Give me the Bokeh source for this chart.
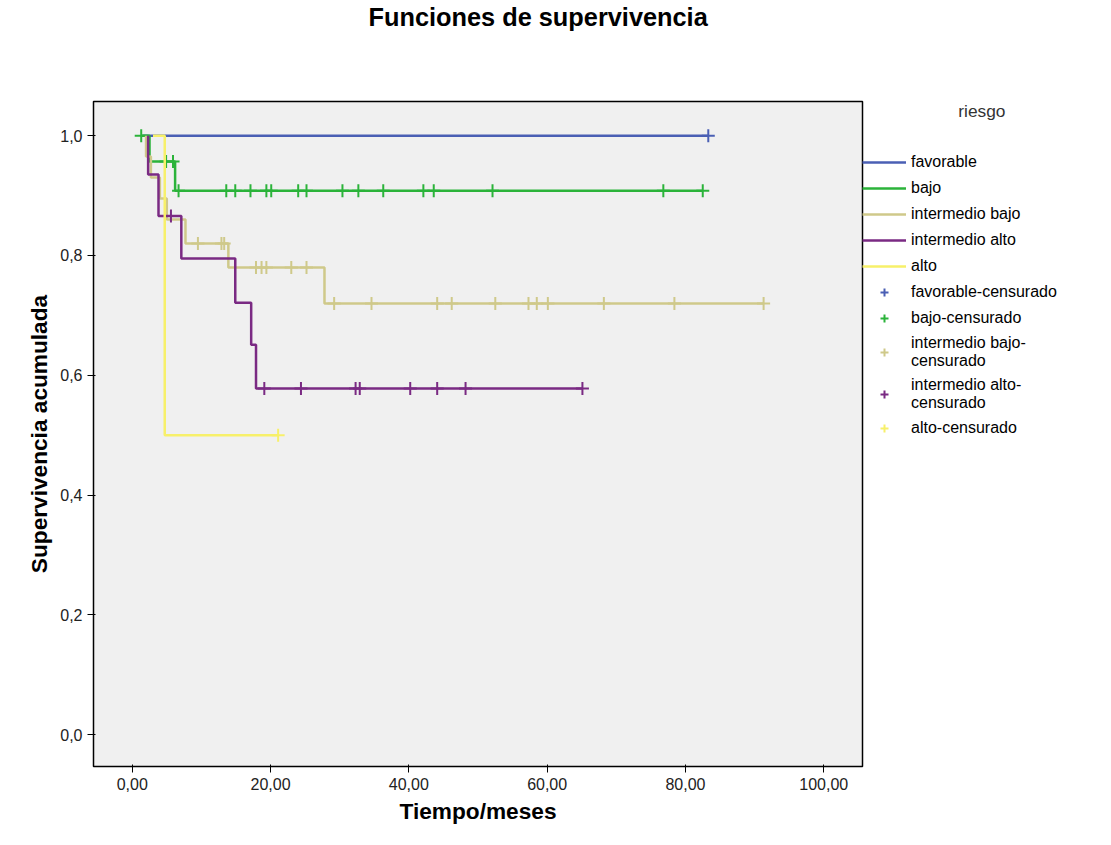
import numpy as np
from bokeh.embed import file_html
from bokeh.resources import INLINE
from bokeh.models import Legend, LegendItem, CustomJSTickFormatter, FixedTicker, Range1d, Title
from bokeh.plotting import figure

# step curves: event times and survival after each time
fav_t = [1.5, 83.3]
fav_s = [1.0, 1.0]
bajo_t = [1.3, 2.5, 6.2, 82.5]
bajo_s = [1.0, 0.957, 0.908, 0.908]
ib_t = [2.0, 2.0, 2.7, 4.0, 5.0, 7.7, 13.9, 27.8, 91.3]
ib_s = [1.0, 0.965, 0.93, 0.895, 0.86, 0.82, 0.78, 0.72, 0.72]
ia_t = [2.3, 2.3, 3.8, 7.1, 14.9, 17.2, 17.9, 65.1]
ia_s = [1.0, 0.935, 0.866, 0.795, 0.721, 0.651, 0.578, 0.578]
alto_t = [3.0, 4.7, 21.1]
alto_s = [1.0, 0.5, 0.5]

# censored times
fav_c = [83.3]
bajo_c = [1.3, 4.9, 5.9, 6.7, 13.6, 14.9, 17.1, 19.4, 20.1, 24.0, 25.2, 30.4,
          32.7, 36.3, 42.1, 43.6, 52.1, 76.8, 82.5]
ib_c = [9.5, 12.9, 13.3, 17.9, 18.7, 19.4, 23.0, 25.2, 29.2, 34.6, 44.1, 46.2,
        52.5, 57.3, 58.5, 60.1, 68.2, 78.4, 91.3]
ia_c = [5.6, 19.1, 24.4, 32.3, 32.9, 40.2, 44.1, 48.2, 65.1]
alto_c = [21.1]

groups = [
    ("favorable", fav_t, fav_s, fav_c, "#4a5fb4"),
    ("bajo", bajo_t, bajo_s, bajo_c, "#2bb33a"),
    ("intermedio bajo", ib_t, ib_s, ib_c, "#cfc98a"),
    ("intermedio alto", ia_t, ia_s, ia_c, "#7a2a83"),
    ("alto", alto_t, alto_s, alto_c, "#f7f06a"),
]
cens_labels = ["favorable-censurado", "bajo-censurado", "intermedio bajo-\ncensurado",
               "intermedio alto-\ncensurado", "alto-censurado"]


def surv_at(ts, ss, x):
    idx = np.searchsorted(ts, x, side="right") - 1
    return ss[max(idx, 0)]


p = figure(frame_width=769, frame_height=665, output_backend="svg", toolbar_location=None,
           x_range=Range1d(-5.6, 105.6), y_range=Range1d(-0.053, 1.057),
           title="Funciones de supervivencia",
           x_axis_label="Tiempo/meses", y_axis_label="Supervivencia acumulada",
           min_border_left=93, min_border_top=100, min_border_bottom=70, min_border_right=0)
p.title.align = "left"
p.title.offset = 275
p.title.standoff = 0
p.title.text_font = "Liberation Sans"
p.title.text_font_size = "19pt"
p.title.text_color = "black"
# blank spacer title between the frame and the real title
spacer = Title(text=" ", text_font_size="46pt", standoff=0)
p.add_layout(spacer, "above")
p.background_fill_color = "#f0f0f0"
p.outline_line_color = "black"
p.outline_line_width = 1.5
p.grid.visible = False

for ax in (p.xaxis, p.yaxis):
    ax.axis_label_text_font = "Liberation Sans"
    ax.axis_label_text_font_size = "17pt"
    ax.axis_label_text_font_style = "bold"
    ax.axis_label_text_color = "black"
    ax.major_label_text_font = "Liberation Sans"
    ax.major_label_text_font_size = "12pt"
    ax.major_label_text_color = "#222222"
    ax.minor_tick_line_color = None
    ax.axis_line_color = None
p.xaxis.ticker = FixedTicker(ticks=[0, 20, 40, 60, 80, 100])
p.yaxis.ticker = FixedTicker(ticks=[0, 0.2, 0.4, 0.6, 0.8, 1.0])
p.xaxis.formatter = CustomJSTickFormatter(code="return tick.toFixed(2).replace('.', ',');")
p.yaxis.formatter = CustomJSTickFormatter(code="return tick.toFixed(1).replace('.', ',');")

line_items, cens_items = [], []
for (name, ts, ss, cs, col), cl in zip(groups, cens_labels):
    r = p.step(ts, ss, mode="after", line_color=col, line_width=2.5)
    cy = [surv_at(ts, ss, c) for c in cs]
    m = p.scatter(cs, cy, marker="cross", size=13, line_color=col, line_width=2)
    line_items.append(LegendItem(label=name, renderers=[r]))
    cens_items.append(LegendItem(label=cl, renderers=[m]))

legend = Legend(items=line_items + cens_items, title="                    riesgo",
                label_text_font="Liberation Sans", label_text_font_size="12pt",
                label_text_color="black",
                title_text_font="Liberation Sans", title_text_font_size="13pt",
                title_text_font_style="normal", title_text_color="#333333",
                background_fill_alpha=0, title_standoff=30,
                border_line_color=None, spacing=6, padding=36, glyph_width=44,
                label_height=20, margin=0, location="top_left")
p.add_layout(legend, "right")

open("out.html", "w").write(file_html(p, INLINE))
